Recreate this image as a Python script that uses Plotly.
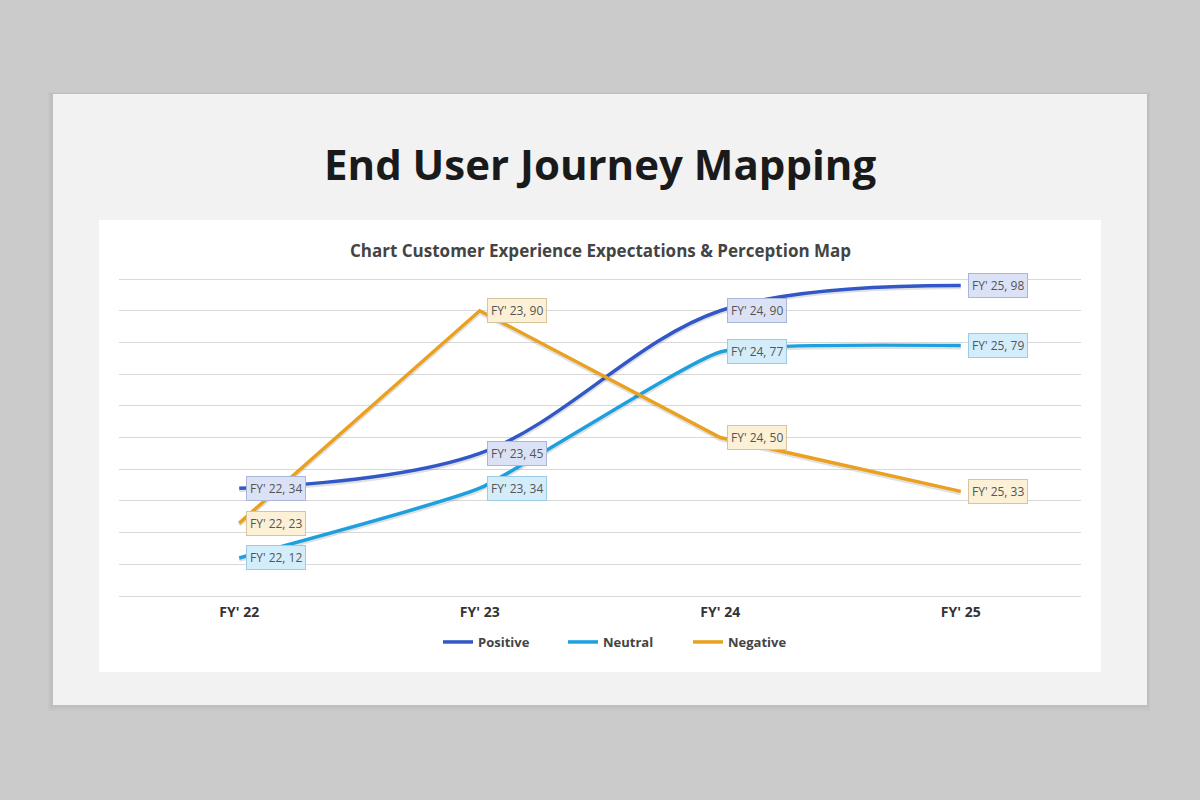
import plotly.graph_objects as go

# ---- data ----
years = ["FY' 22", "FY' 23", "FY' 24", "FY' 25"]
positive = [34, 45, 90, 98]
neutral = [12, 34, 77, 79]
negative = [23, 90, 50, 33]

W, H = 1200, 800
FONT = "Open Sans, sans-serif"

def px(x):
    return x / W

def py(y):
    return 1 - y / H

series = [
    ("Positive", positive, "#3158c6", "#dbe2f6", "#a9b6dc", "spline", 1.0),
    ("Neutral", neutral, "#1ea0df", "#d4edfb", "#9ccbe6", "spline", 0.4),
    ("Negative", negative, "#e9a11f", "#fcf0d7", "#d8c59c", "linear", 0),
]

fig = go.Figure()

annotations = []
for name, vals, col, bg, border, shape, smooth in series:
    line = dict(color=col, width=3.5, shape=shape)
    shadow = dict(color="rgba(0,0,0,0.12)", width=4, shape=shape)
    if shape == "spline":
        line["smoothing"] = smooth
        shadow["smoothing"] = smooth
    # faint shadow under the line
    fig.add_trace(go.Scatter(x=years, y=[v - 0.6 for v in vals], mode="lines", showlegend=False,
                             hoverinfo="skip", line=shadow))
    fig.add_trace(go.Scatter(x=years, y=vals, mode="lines", name=name, line=line))
    for yr, v in zip(years, vals):
        annotations.append(dict(
            x=yr, y=v, xref="x", yref="y", text=f"{yr}, {v}",
            showarrow=False, xanchor="left", yanchor="middle", xshift=7,
            bgcolor=bg, bordercolor=border, borderwidth=1, borderpad=3,
            font=dict(family=FONT, size=12, color="#555555"),
        ))

annotations.append(dict(
    text="<b>End User Journey Mapping</b>", x=0.5, y=py(163), xref="paper", yref="paper",
    showarrow=False, xanchor="center", yanchor="middle",
    font=dict(family=FONT, size=42, color="#1a1a1a"),
))
annotations.append(dict(
    text="<b>Chart Customer Experience Expectations & Perception Map</b>",
    x=0.5, y=py(251), xref="paper", yref="paper",
    showarrow=False, xanchor="center", yanchor="middle",
    font=dict(family=FONT, size=17, color="#444444"),
))

shapes = [
    # card shadow
    dict(type="rect", xref="paper", yref="paper", x0=px(48), x1=px(1150), y0=py(92), y1=py(711),
         fillcolor="rgba(0,0,0,0.025)", line=dict(width=0), layer="below"),
    dict(type="rect", xref="paper", yref="paper", x0=px(50), x1=px(1149), y0=py(93), y1=py(708),
         fillcolor="rgba(0,0,0,0.035)", line=dict(width=0), layer="below"),
    # card
    dict(type="rect", xref="paper", yref="paper", x0=px(53), x1=px(1147), y0=py(94), y1=py(705),
         fillcolor="#f2f2f2", line=dict(width=0), layer="below"),
    # white chart box
    dict(type="rect", xref="paper", yref="paper", x0=px(99), x1=px(1101), y0=py(220), y1=py(672),
         fillcolor="#ffffff", line=dict(width=0), layer="below"),
]

fig.update_layout(
    width=W, height=H,
    margin=dict(l=0, r=0, t=0, b=0, autoexpand=False),
    paper_bgcolor="#cbcbcb",
    plot_bgcolor="rgba(0,0,0,0)",
    showlegend=True,
    legend=dict(orientation="h", x=px(438), xanchor="left", y=py(642), yanchor="middle",
                bgcolor="rgba(0,0,0,0)",
                font=dict(family=FONT, size=13, color="#444444", weight="bold"),
                itemwidth=30, entrywidth=80, entrywidthmode="pixels"),
    xaxis=dict(domain=[px(119), px(1081)], range=[-0.5, 3.5], showgrid=False, zeroline=False,
               showline=False, ticks="", automargin=False,
               tickfont=dict(family=FONT, size=14, color="#333333", weight="bold"),
               ticklabelstandoff=6, fixedrange=True),
    yaxis=dict(domain=[py(596), py(272.7)], range=[0, 102], tick0=0, dtick=10,
               showgrid=True, gridcolor="#d9d9d9", gridwidth=1,
               zeroline=True, zerolinecolor="#d9d9d9", zerolinewidth=1,
               showticklabels=False, ticks="", automargin=False, fixedrange=True),
    shapes=shapes,
    annotations=annotations,
)

fig.write_html("out.html", config={"displayModeBar": False},
               post_script="document.body.style.margin='0';")
